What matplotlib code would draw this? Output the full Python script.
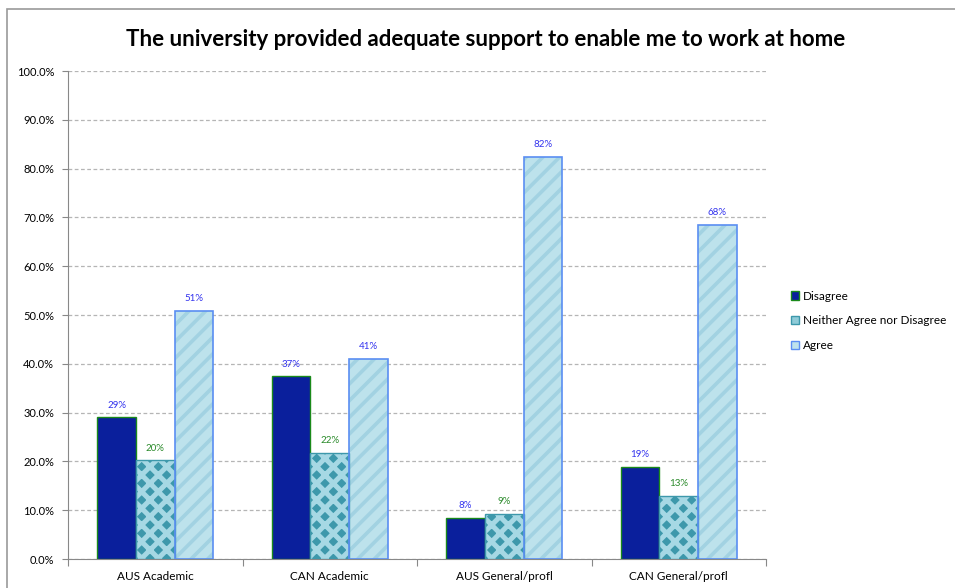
import numpy as np
import matplotlib.pyplot as plt
from matplotlib.patches import Patch, Rectangle

plt.rcParams["font.family"] = ["Lato", "DejaVu Sans"]

# Survey responses by staff group
categories = ["AUS Academic", "CAN Academic", "AUS General/profl", "CAN General/profl"]
disagree = [29.0, 37.4, 8.5, 18.8]
neither = [20.2, 21.8, 9.2, 12.9]
agree = [50.9, 41.0, 82.4, 68.4]
series_names = ["Disagree", "Neither Agree nor Disagree", "Agree"]

fig = plt.figure(figsize=(9.55, 5.88), dpi=100)
ax = fig.add_axes([68 / 955, 1 - 559 / 588, (766 - 68) / 955, (559 - 71) / 588])

# outer chart frame
fig.patches.append(Rectangle((7 / 955, -0.01), 1.0, 1 - 9 / 588 + 0.01,
                             transform=fig.transFigure, fill=False,
                             edgecolor="#9a9a9a", linewidth=1.2))

x = np.arange(len(categories)) + 0.5
w = 0.222

# Disagree: solid dark blue
ax.bar(x - w, disagree, w, color="#0a1f9c", edgecolor="#1a8a1a", linewidth=1.0, zorder=3)

# Neither: teal diamonds on light blue
with plt.rc_context({"hatch.linewidth": 3.6}):
    ax.bar(x, neither, w, color="#3d98ab", edgecolor="#a6d8e4", hatch="xx", linewidth=0, zorder=3)
ax.bar(x, neither, w, fill=False, edgecolor="#3d98ab", linewidth=1.0, zorder=4)

# Agree: pale stripes
with plt.rc_context({"hatch.linewidth": 2.6}):
    ax.bar(x + w, agree, w, color="#bde2ec", edgecolor="#a2d2e2", hatch="//", linewidth=0, zorder=3)
ax.bar(x + w, agree, w, fill=False, edgecolor="#5a8ef2", linewidth=1.2, zorder=4)

# value labels
for xs, vals, col in [(x - w, disagree, "#3333ee"), (x, neither, "#2a8a2a"), (x + w, agree, "#3333ee")]:
    for xi, v in zip(xs, vals):
        ax.text(xi, v + 1.6, f"{v:.0f}%", ha="center", va="bottom", fontsize=7, color=col)

ax.set_xlim(0, len(categories))
ax.set_ylim(0, 100)
ax.set_yticks(np.arange(0, 101, 10))
ax.set_yticklabels([f"{t:.1f}%" for t in np.arange(0, 101, 10)], fontsize=8)
ax.set_xticks(np.arange(0, len(categories) + 1))
ax.set_xticklabels([])
ax.set_xticks(x, minor=True)
ax.set_xticklabels(categories, minor=True, fontsize=8.5)
ax.tick_params(axis="x", which="minor", length=0, pad=9)
ax.tick_params(axis="x", which="major", length=5, color="#888888", direction="out")
ax.tick_params(axis="y", length=4, color="#888888", pad=6)

ax.grid(axis="y", linestyle=(0, (3, 2)), color="#b5b5b5", linewidth=0.9, zorder=0)
ax.set_axisbelow(True)
for s in ["top", "right"]:
    ax.spines[s].set_visible(False)
for s in ["left", "bottom"]:
    ax.spines[s].set_color("#888888")

fig.text(486 / 955, 1 - 40 / 588, "The university provided adequate support to enable me to work at home",
         ha="center", va="center", fontsize=16, fontweight="bold")

handles = [
    Patch(facecolor="#0a1f9c", edgecolor="#1a8a1a", linewidth=1.0),
    Patch(facecolor="#8fcbd8", edgecolor="#3d98ab", linewidth=1.0),
    Patch(facecolor="#bde2ec", edgecolor="#5a8ef2", linewidth=1.0),
]
fig.legend(handles, series_names, loc="upper left", bbox_to_anchor=(786 / 955, 1 - 286 / 588),
           frameon=False, fontsize=8.5, handlelength=0.7, handleheight=0.7,
           handletextpad=0.3, labelspacing=1.15, borderaxespad=0)

fig.savefig("out.png", dpi=100)
